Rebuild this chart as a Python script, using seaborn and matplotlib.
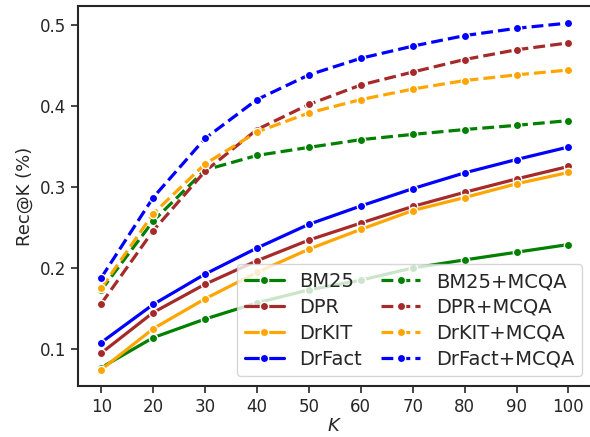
import matplotlib
matplotlib.use("Agg")
import matplotlib.pyplot as plt
import seaborn as sns
import pandas as pd

K = [10, 20, 30, 40, 50, 60, 70, 80, 90, 100]

bm25 = [0.077, 0.114, 0.137, 0.157, 0.173, 0.185, 0.200, 0.210, 0.2195, 0.229]
dpr = [0.095, 0.145, 0.180, 0.209, 0.2345, 0.2555, 0.276, 0.2935, 0.310, 0.3254]
drkit = [0.0745, 0.125, 0.162, 0.1945, 0.2233, 0.2477, 0.271, 0.287, 0.304, 0.318]
drfact = [0.108, 0.155, 0.1925, 0.2247, 0.254, 0.2766, 0.298, 0.3175, 0.334, 0.3494]

bm25_mcqa = [0.1727, 0.258, 0.321, 0.339, 0.349, 0.3585, 0.365, 0.371, 0.3762, 0.382]
dpr_mcqa = [0.156, 0.246, 0.3195, 0.371, 0.402, 0.426, 0.442, 0.4575, 0.4695, 0.478]
drkit_mcqa = [0.175, 0.267, 0.3285, 0.368, 0.3915, 0.408, 0.421, 0.4315, 0.4385, 0.4445]
drfact_mcqa = [0.188, 0.287, 0.360, 0.408, 0.4385, 0.459, 0.474, 0.487, 0.496, 0.5025]

names = ["BM25", "DPR", "DrKIT", "DrFact",
         "BM25+MCQA", "DPR+MCQA", "DrKIT+MCQA", "DrFact+MCQA"]
series = [bm25, dpr, drkit, drfact, bm25_mcqa, dpr_mcqa, drkit_mcqa, drfact_mcqa]
colors = ["green", "brown", "orange", "blue"] * 2
styles = ["-"] * 4 + ["--"] * 4

sns.set_theme(style="ticks")
plt.rcParams["font.family"] = ["DejaVu Sans"]

fig = plt.figure(figsize=(5.9, 4.37), dpi=100)
ax = fig.add_axes([0.132, 0.1167, 0.871, 0.870])

for name, vals, c, ls in zip(names, series, colors, styles):
    df = pd.DataFrame({"K": K, "v": vals})
    sns.lineplot(data=df, x="K", y="v", ax=ax, color=c, linestyle=ls,
                 marker="o", markersize=6, markeredgecolor="white",
                 markeredgewidth=1.0, linewidth=2.3, label=name)

ax.set_xlim(5.5, 104.5)
ax.set_ylim(0.0543, 0.5238)
ax.set_xticks(K)
ax.set_yticks([0.1, 0.2, 0.3, 0.4, 0.5])
ax.tick_params(labelsize=12, length=5, width=1.2, colors="#262626")
for s in ax.spines.values():
    s.set_linewidth(1.5)
    s.set_color("#262626")
ax.set_xlabel("$K$", fontsize=13, labelpad=1)
ax.set_ylabel("Rec@K (%)", fontsize=13)

leg = ax.legend(ncol=2, loc="lower right", fontsize=14, frameon=True,
                handlelength=2.0, labelspacing=0.35, columnspacing=1.0,
                borderpad=0.4, handletextpad=0.8)
leg.get_frame().set_edgecolor("#cccccc")

fig.savefig("out.png", dpi=100)
